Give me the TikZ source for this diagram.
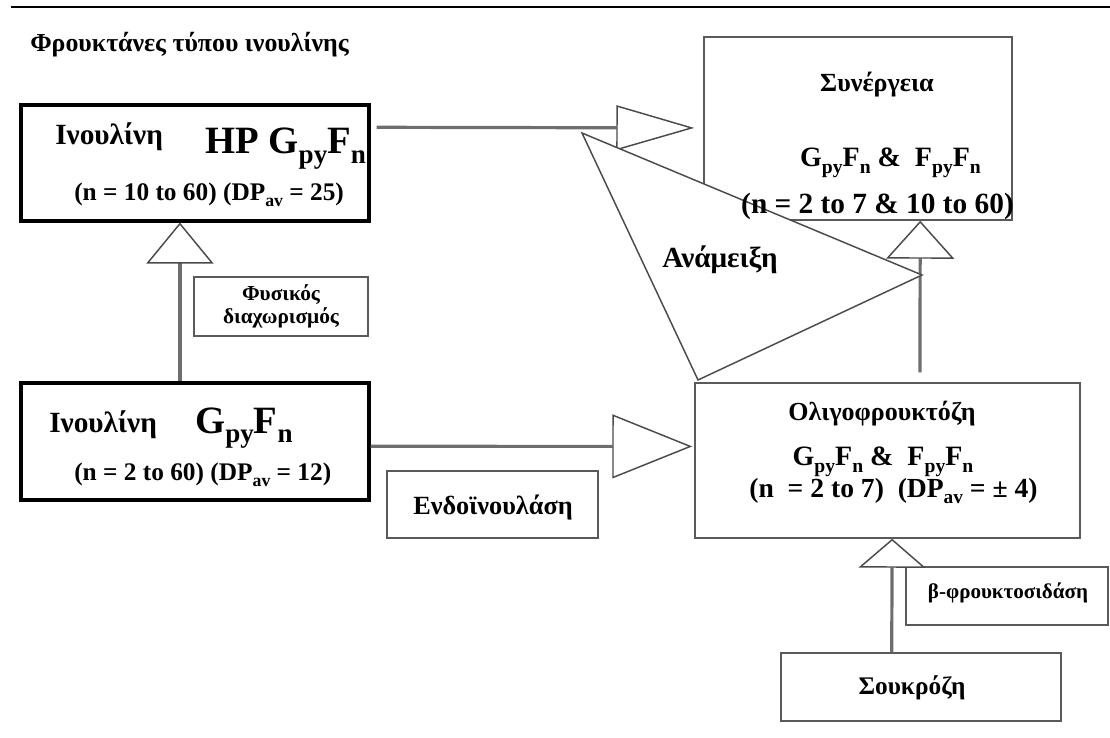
\documentclass[tikz,border=0pt]{standalone}
\usepackage{fontspec}
\setmainfont{Liberation Serif}
\usepackage{graphicx}
\usetikzlibrary{arrows.meta,calc}
\definecolor{linegray}{RGB}{110,110,110}
\definecolor{edgegray}{RGB}{75,75,75}
\definecolor{boxgray}{RGB}{90,90,90}
\newcommand\sbs[1]{\raisebox{-0.25em}{\scalebox{0.7}{#1}}}
\newcommand\fsz[1]{\fontsize{#1}{#1}\selectfont}
\begin{document}
\begin{tikzpicture}[x=0.75pt,y=-0.75pt,
  thickbox/.style={draw=black,line width=2.3pt,inner sep=0pt},
  thinbox/.style={draw=boxgray,line width=1.1pt,inner sep=0pt,fill=white},
  txt/.style={inner sep=0pt},
  conn/.style 2 args={draw=linegray,line width=2.4pt,
    -{Triangle[length=#1,width=#2,fill=white,color=edgegray,line width=1.1pt]}}]
\useasboundingbox (0,0) rectangle (1110,738);
\draw[black,line width=1.6pt] (11,7) -- (1110,7);
\node[txt,anchor=base west,font=\bfseries\fsz{19.4}] (title) at (30,52) {Φρουκτάνες τύπου ινουλίνης};
% boxes
\node[thickbox,minimum width=261pt,minimum height=87pt] (hp) at (195,163) {};
\node[thickbox,minimum width=261pt,minimum height=87.75pt] (ib) at (195,441.5) {};
\node[thinbox,minimum width=231pt,minimum height=137.25pt] (syn) at (858,128.5) {};
\node[thinbox,minimum width=288.75pt,minimum height=116.25pt] (oligo) at (887.5,460.5) {};
\node[thinbox,minimum width=130.5pt,minimum height=44.25pt,align=center,
  font=\bfseries\fontsize{16}{17.25}\selectfont] (phys) at (281,306.5) {Φυσικός\\διαχωρισμός};
\node[thinbox,minimum width=158.25pt,minimum height=50.25pt] (endo) at (492.5,504.5) {};
\node[thinbox,minimum width=151.5pt,minimum height=43.5pt] (beta) at (1007,596) {};
\node[thinbox,minimum width=210pt,minimum height=51pt] (sucr) at (921,687) {};
% texts in boxes
\node[txt,font=\bfseries\fsz{19.7}] (endotxt) at (493,508) {Ενδοϊνουλάση};
\node[txt,font=\bfseries\fsz{15.8}] (betatxt) at (1008,593) {β-φρουκτοσιδάση};
\node[txt,font=\bfseries\fsz{19}] (sucrtxt) at (912,688) {Σουκρόζη};
\node[txt,anchor=base west,font=\bfseries\fsz{22}] (hpname) at (55,145) {Ινουλίνη};
\node[txt,anchor=base west,font=\bfseries\fsz{29}] (hpform) at (205,154) {HP G\sbs{py}F\sbs{n}};
\node[txt,anchor=base west,font=\bfseries\fsz{19}] (hprange) at (74,200) {(n = 10 to 60) (DP\sbs{av} = 25)};
\node[txt,anchor=base west,font=\bfseries\fsz{22}] (ibname) at (49,432) {Ινουλίνη};
\node[txt,anchor=base west,font=\bfseries\fsz{29}] (ibform) at (195,433) {G\sbs{py}F\sbs{n}};
\node[txt,anchor=base west,font=\bfseries\fsz{19}] (ibrange) at (74,480) {(n = 2 to 60) (DP\sbs{av} = 12)};
\node[txt,anchor=base,font=\bfseries\fsz{19.5}] (olname) at (882,420) {Ολιγοφρουκτόζη};
\node[txt,anchor=base,font=\bfseries\fsz{21}] (olform) at (883,465) {G\sbs{py}F\sbs{n} \&\ \ F\sbs{py}F\sbs{n}};
\node[txt,anchor=base,font=\bfseries\fsz{20.7}] (olrange) at (893.5,497) {(n\ \ = 2 to 7)\ \ (DP\sbs{av} = ± 4)};
% connectors
\draw[conn={58.5pt}{33.75pt},shorten <=4.5pt,shorten >=6.75pt]
  ($(hp.north east)!0.2!(hp.south east)$) -- ($(syn.north west)!0.497!(syn.south west)$);
\draw[conn={60pt}{48pt},shorten >=1.5pt]
  ($(ib.north east)!0.54!(ib.south east)$) -- ($(oligo.north west)!0.41!(oligo.south west)$);
\draw[conn={30.75pt}{50.25pt}]
  ($(ib.north west)!0.457!(ib.north east)$) -- ($(hp.south west)!0.457!(hp.south east)$);
\draw[conn={28.5pt}{51pt},shorten <=7.5pt]
  ($(oligo.north west)!0.584!(oligo.north east)$) -- ($(syn.south west)!0.701!(syn.south east)$);
\draw[conn={21.75pt}{50.25pt}]
  ($(sucr.north west)!0.396!(sucr.north east)$) -- ($(oligo.south west)!0.512!(oligo.south east)$);
% mixing triangle
\coordinate (mA) at (582,133);
\coordinate (mB) at (922,275);
\coordinate (mC) at (698,380);
\draw[draw=edgegray,fill=white,line width=1.1pt] (mA) -- (mB) -- (mC) -- cycle;
\node[txt,font=\bfseries\fsz{21.9}] (mix) at (720,260) {Ανάμειξη};
% synergy texts
\node[txt,anchor=base,font=\bfseries\fsz{19.6}] (synname) at (877,92) {Συνέργεια};
\node[txt,anchor=base,font=\bfseries\fsz{21}] (synform) at (890.5,167) {G\sbs{py}F\sbs{n} \&\ \ F\sbs{py}F\sbs{n}};
\node[txt,anchor=base,font=\bfseries\fsz{22}] (synrange) at (877.5,214) {(n = 2 to 7 \& 10 to 60)};
\end{tikzpicture}
\end{document}
